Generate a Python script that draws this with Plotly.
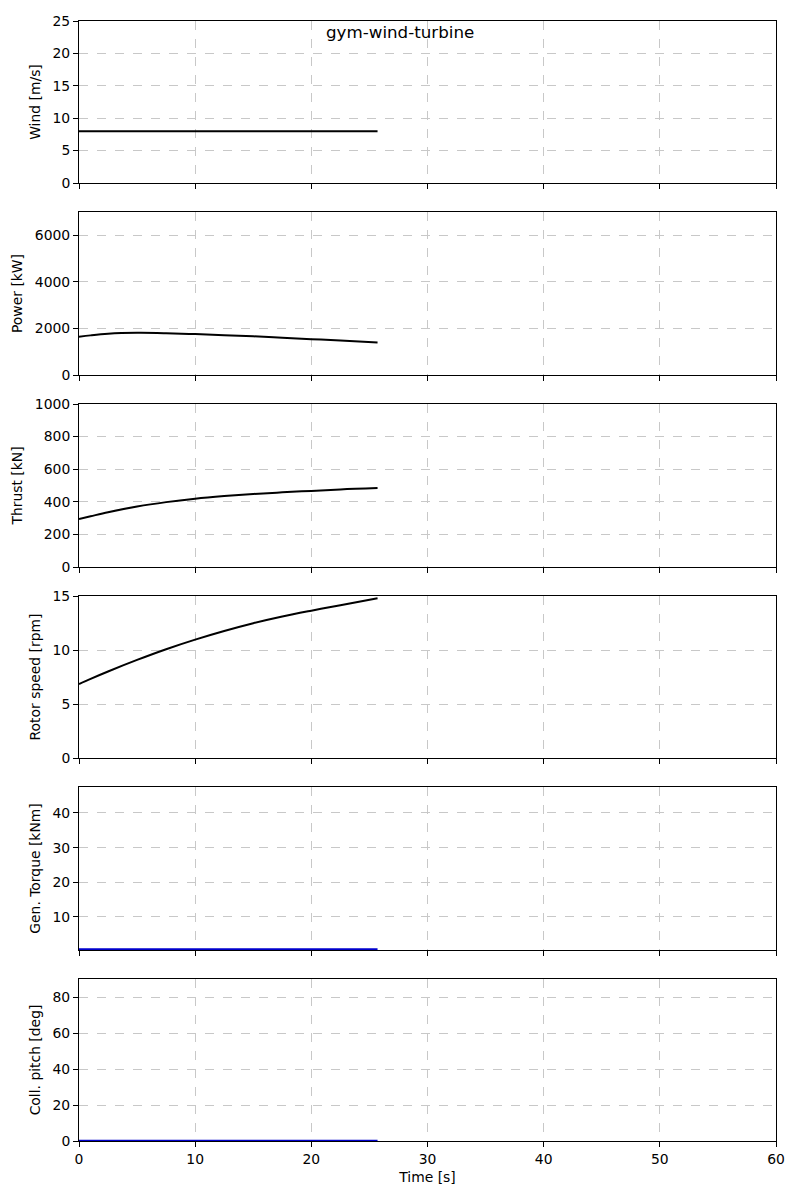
import plotly.graph_objects as go

# ---- data ----
time_s = [0, 1, 2.5, 5, 7.5, 10, 12.5, 15, 17.5, 20, 22.5, 25.7]
wind_ms = [8, 8, 8, 8, 8, 8, 8, 8, 8, 8, 8, 8]
power_kw = [1641, 1702, 1770, 1810, 1795, 1757, 1712, 1662, 1602, 1540, 1478, 1401]
thrust_kn = [294, 311, 336, 371, 398, 419, 435, 448, 458, 467, 476, 484]
rotor_rpm = [6.85, 7.33, 8.01, 9.08, 10.07, 10.96, 11.76, 12.48, 13.1, 13.64, 14.15, 14.8]
torque_knm = [0.65] * 12
pitch_deg = [0.1] * 12

panels = [
    ("Wind [m/s]", wind_ms, [0, 25], 5, "black"),
    ("Power [kW]", power_kw, [0, 7000], 2000, "black"),
    ("Thrust [kN]", thrust_kn, [0, 1000], 200, "black"),
    ("Rotor speed [rpm]", rotor_rpm, [0, 15], 5, "black"),
    ("Gen. Torque [kNm]", torque_knm, [0.45, 47.5], 10, "#0000cc"),
    ("Coll. pitch [deg]", pitch_deg, [0, 90], 20, "#0000cc"),
]

# pixel layout
W, H = 800, 1200
L, R, T, B = 79, 24, 21, 59
plot_h = H - T - B
tops = [21, 212, 404, 596, 787, 979]
bots = [183, 375, 567, 758, 950, 1141]

def py(px):
    return (H - B - px) / plot_h

font = dict(family="DejaVu Sans", size=13.9, color="black")
fig = go.Figure()
layout = dict(
    width=W, height=H,
    margin=dict(l=L, r=R, t=T, b=B),
    plot_bgcolor="white", paper_bgcolor="white",
    font=font, showlegend=False,
)

n = len(panels)
for i, (label, vals, rng, dt, col) in enumerate(panels):
    k = "" if i == 0 else str(i + 1)
    fig.add_trace(go.Scatter(x=time_s, y=vals, mode="lines",
                             line=dict(color=col, width=2),
                             xaxis="x" + k, yaxis="y" + k,
                             line_shape="spline", cliponaxis=False if i >= 4 else True))
    xa = dict(domain=[0, 1], range=[0, 60], dtick=10, anchor="y" + k,
              showline=True, linecolor="black", linewidth=1, mirror=True,
              ticks="outside", ticklen=5, tickcolor="black", tickwidth=1,
              showgrid=True, gridcolor="#c8c8c8", griddash="dash", gridwidth=1,
              zeroline=False, showticklabels=(i == n - 1), tickfont=font)
    if i > 0:
        xa["matches"] = "x"
    if i == n - 1:
        xa["title"] = dict(text="Time [s]", font=font, standoff=6)
    ya = dict(domain=[py(bots[i]), py(tops[i])], range=rng, dtick=dt, anchor="x" + k,
              showline=True, linecolor="black", linewidth=1, mirror=True,
              ticks="outside", ticklen=5, tickcolor="black", tickwidth=1,
              showgrid=True, gridcolor="#c8c8c8", griddash="dash", gridwidth=1,
              zeroline=False, tickfont=font,
              title=dict(text=label, font=font, standoff=8))
    layout["xaxis" + k] = xa
    layout["yaxis" + k] = ya

layout["annotations"] = [dict(text="gym-wind-turbine", xref="paper", yref="paper",
                              x=(400 - L) / (W - L - R), y=py(32), xanchor="center",
                              yanchor="middle", showarrow=False,
                              font=dict(family="DejaVu Sans", size=16.7, color="black"))]
fig.update_layout(**layout)
fig.write_html("out.html")
